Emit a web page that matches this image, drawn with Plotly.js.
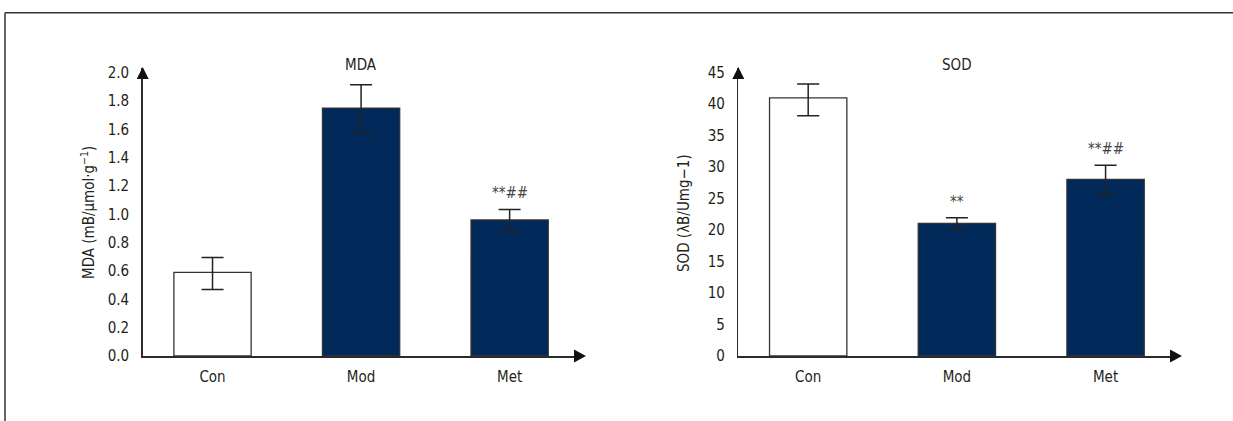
<!DOCTYPE html>
<html>
<head>
<meta charset="utf-8">
<script src="https://cdn.plot.ly/plotly-3.0.1.min.js"></script>
<style>html,body{margin:0;padding:0;background:#fff;}#chart{width:1233px;height:421px;}</style>
</head>
<body>
<div id="chart"></div>
<script>
// ---- data ----
const categories = ["Con", "Mod", "Met"];
const mdaValues = [0.59, 1.75, 0.96];
const mdaErrPlus = [0.105, 0.165, 0.075];
const mdaErrMinus = [0.12, 0.175, 0.085];
const mdaSig = ["", "", "**##"];
const sodValues = [41.0, 21.05, 28.05];
const sodErrPlus = [2.2, 0.9, 2.25];
const sodErrMinus = [2.85, 0.9, 2.3];
const sodSig = ["", "**", "**##"];
const mdaTicks = [0, 0.2, 0.4, 0.6, 0.8, 1.0, 1.2, 1.4, 1.6, 1.8, 2.0];
const mdaTickText = ["0.0","0.2","0.4","0.6","0.8","1.0","1.2","1.4","1.6","1.8","2.0"];
const sodTicks = [0, 5, 10, 15, 20, 25, 30, 35, 40, 45];

// ---- style ----
const W = 1233, H = 421;
const FONT = "'Liberation Sans Narrow', 'DejaVu Sans Condensed', 'Roboto Condensed', Arial, sans-serif";
const TXT = "#231f20";
const AX = "#2b2b2b";
const NAVY = "#012a5b";
const barColors = ["#ffffff", NAVY, NAVY];

function barTrace(vals, plus, minus, xa, ya) {
  return {
    type: "bar", x: categories, y: vals, xaxis: xa, yaxis: ya,
    width: 0.52,
    marker: {color: barColors, line: {color: "#333333", width: 1.3}},
    error_y: {type: "data", symmetric: false, array: plus, arrayminus: minus,
              color: "#222222", thickness: 1.5, width: 11},
    hoverinfo: "skip", showlegend: false
  };
}

const data = [
  barTrace(mdaValues, mdaErrPlus, mdaErrMinus, "x", "y"),
  barTrace(sodValues, sodErrPlus, sodErrMinus, "x2", "y2")
];

// plot geometry in pixels
const yTopPx = 68, yBotPx = 356;
const leftDom = [142.7, 575], rightDom = [738.3, 1171];
const yTop = 1 - yTopPx / H, yBot = 1 - yBotPx / H;

function xax(dom, anchor) {
  return {domain: [dom[0] / W, dom[1] / W], anchor: anchor, range: [-0.47, 2.44], showgrid: false, zeroline: false,
          showline: true, linecolor: AX, linewidth: 1.5, ticks: "outside", ticklen: 6,
          tickcolor: "rgba(0,0,0,0)", tickfont: {family: FONT, size: 15, color: TXT}, fixedrange: true};
}
function yax(anchor, range, tv, tt) {
  const a = {domain: [yBot, yTop], anchor: anchor, range: range, showgrid: false, zeroline: false,
          showline: true, linecolor: AX, linewidth: 1.5, ticks: "outside", ticklen: 9,
          tickcolor: "rgba(0,0,0,0)", tickmode: "array", tickvals: tv,
          tickfont: {family: FONT, size: 15, color: TXT}, fixedrange: true};
  if (tt) a.ticktext = tt;
  return a;
}

// arrowhead triangles (paper coords from pixel geometry)
function P(px, py) { return (px / W).toFixed(5) + "," + (1 - py / H).toFixed(5); }
function arrowShapes(dom) {
  const x0 = dom[0], xe = dom[1];
  return [
    {type: "path", xref: "paper", yref: "paper",
     path: "M" + P(xe - 1, yBotPx - 6.5) + " L" + P(xe + 11, yBotPx) + " L" + P(xe - 1, yBotPx + 6.5) + " Z",
     fillcolor: "#111", line: {width: 0}},
    {type: "path", xref: "paper", yref: "paper",
     path: "M" + P(x0 - 6, yTopPx + 11) + " L" + P(x0, yTopPx - 1) + " L" + P(x0 + 6, yTopPx + 11) + " Z",
     fillcolor: "#111", line: {width: 0}}
  ];
}

const annotations = [];
function sigLabels(vals, plus, sig, xr, yr) {
  categories.forEach((c, i) => {
    if (!sig[i]) return;
    annotations.push({xref: xr, yref: yr, x: c, y: vals[i] + plus[i], text: sig[i],
      showarrow: false, yanchor: "bottom", yshift: 5,
      font: {family: FONT, size: 15, color: "#444"}});
  });
}
sigLabels(mdaValues, mdaErrPlus, mdaSig, "x", "y");
sigLabels(sodValues, sodErrPlus, sodSig, "x2", "y2");

// panel titles
annotations.push({xref: "x", yref: "paper", x: "Mod", y: 1 - 65 / H, xanchor: "center", yanchor: "middle", text: "MDA",
  showarrow: false, font: {family: FONT, size: 15, color: TXT}});
annotations.push({xref: "x2", yref: "paper", x: "Mod", y: 1 - 65 / H, xanchor: "center", yanchor: "middle", text: "SOD",
  showarrow: false, font: {family: FONT, size: 15, color: TXT}});
// y-axis titles
annotations.push({xref: "paper", yref: "paper", x: 88 / W, y: 1 - 213 / H, xanchor: "center", yanchor: "middle", textangle: -90,
  text: "MDA (mB/μmol·g<sup>−1</sup>)", showarrow: false, font: {family: FONT, size: 15, color: TXT}});
annotations.push({xref: "paper", yref: "paper", x: 684 / W, y: 1 - 213 / H, xanchor: "center", yanchor: "middle", textangle: -90,
  text: "SOD (λB/Umg−1)", showarrow: false, font: {family: FONT, size: 15, color: TXT}});

const layout = {
  width: W, height: H,
  margin: {l: 0, r: 0, t: 0, b: 0},
  paper_bgcolor: "#ffffff", plot_bgcolor: "rgba(0,0,0,0)",
  xaxis: xax(leftDom, "y"),
  yaxis: yax("x", [0, 2.0 * (yBotPx - yTopPx) / (356 - 72.7)], mdaTicks, mdaTickText),
  xaxis2: xax(rightDom, "y2"),
  yaxis2: yax("x2", [0, 45 * (yBotPx - yTopPx) / (356 - 72.7)], sodTicks, null),
  annotations: annotations,
  shapes: [
    {type: "line", xref: "paper", yref: "paper", x0: 5 / W, x1: 1, y0: 1 - 12.7 / H, y1: 1 - 12.7 / H,
     line: {color: "#333", width: 1.5}},
    {type: "line", xref: "paper", yref: "paper", x0: 5 / W, x1: 5 / W, y0: 0, y1: 1 - 12.7 / H,
     line: {color: "#333", width: 1.5}}
  ].concat(arrowShapes(leftDom), arrowShapes(rightDom))
};

Plotly.newPlot("chart", data, layout, {displayModeBar: false, staticPlot: true});
</script>
</body>
</html>
